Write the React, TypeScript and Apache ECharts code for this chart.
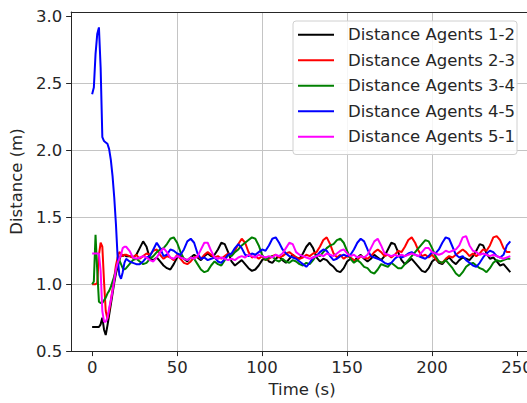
import React, { useEffect, useRef } from "react";
import * as echarts from "echarts";

// Sampling instants (s): 1 s spacing during the transient, 2 s afterwards.
const earlyTimes = [0, 1, 2, 3, 4, 5, 6, 7, 8, 9, 10, 11, 12, 13, 14, 15, 16, 17, 18, 19, 20];
const laterTimes = [
  22, 24, 26, 28, 30, 32, 34, 36, 38, 40, 42, 44, 46, 48, 50, 52, 54, 56, 58, 60,
  62, 64, 66, 68, 70, 72, 74, 76, 78, 80, 82, 84, 86, 88, 90, 92, 94, 96, 98, 100,
  102, 104, 106, 108, 110, 112, 114, 116, 118, 120, 122, 124, 126, 128, 130, 132, 134, 136, 138, 140,
  142, 144, 146, 148, 150, 152, 154, 156, 158, 160, 162, 164, 166, 168, 170, 172, 174, 176, 178, 180,
  182, 184, 186, 188, 190, 192, 194, 196, 198, 200, 202, 204, 206, 208, 210, 212, 214, 216, 218, 220,
  222, 224, 226, 228, 230, 232, 234, 236, 238, 240, 242, 244, 246,
];

// Inter-agent distances (m)
const dist12 = [
  0.68, 0.68, 0.68, 0.68, 0.68, 0.70, 0.75, 0.66, 0.62, 0.69, 0.77, 0.85, 0.93, 1.01, 1.08, 1.13, 1.18, 1.22, 1.21, 1.22, 1.21,
  1.21, 1.20, 1.22, 1.27, 1.32,
  1.28, 1.19, 1.18, 1.20, 1.17,
  1.14, 1.12, 1.11, 1.15, 1.20,
  1.21, 1.19, 1.17, 1.20, 1.22,
  1.20, 1.18, 1.21, 1.23, 1.21,
  1.22, 1.26, 1.31, 1.30, 1.24,
  1.17, 1.14, 1.16, 1.18, 1.15,
  1.12, 1.10, 1.11, 1.14, 1.18,
  1.20, 1.17, 1.16, 1.19, 1.21,
  1.18, 1.16, 1.19, 1.22, 1.20,
  1.19, 1.23, 1.28, 1.31, 1.27,
  1.20, 1.17, 1.19, 1.18, 1.15,
  1.13, 1.10, 1.09, 1.12, 1.17,
  1.19, 1.17, 1.20, 1.22, 1.19,
  1.17, 1.19, 1.22, 1.20, 1.18,
  1.21, 1.26, 1.31, 1.30, 1.24,
  1.18, 1.15, 1.17, 1.19, 1.16,
  1.13, 1.10, 1.09, 1.12, 1.17,
  1.19, 1.16, 1.15, 1.18, 1.20,
  1.17, 1.15, 1.18, 1.20, 1.19,
  1.18, 1.21, 1.25, 1.30, 1.29,
  1.23, 1.19, 1.20, 1.17, 1.14,
  1.15, 1.12, 1.09,
];

const dist23 = [
  1.00, 1.00, 1.00, 1.01, 1.22, 1.31, 1.28, 1.02, 0.80, 0.74, 0.80, 0.88, 0.96, 1.05, 1.14, 1.20, 1.24, 1.23, 1.21, 1.22, 1.22,
  1.21, 1.20, 1.22, 1.19, 1.21,
  1.23, 1.22, 1.25, 1.26, 1.22,
  1.19, 1.21, 1.20, 1.18, 1.22,
  1.19, 1.16, 1.15, 1.17, 1.20,
  1.21, 1.19, 1.22, 1.24, 1.22,
  1.20, 1.21, 1.19, 1.21, 1.23,
  1.22, 1.25, 1.30, 1.34, 1.31,
  1.24, 1.20, 1.21, 1.19, 1.21,
  1.18, 1.19, 1.21, 1.22, 1.20,
  1.21, 1.23, 1.24, 1.22, 1.20,
  1.19, 1.20, 1.22, 1.21, 1.23,
  1.24, 1.28, 1.33, 1.35, 1.30,
  1.23, 1.20, 1.22, 1.19, 1.21,
  1.20, 1.18, 1.18, 1.21, 1.20,
  1.19, 1.21, 1.24, 1.26, 1.24,
  1.21, 1.22, 1.20, 1.22, 1.25,
  1.24, 1.28, 1.33, 1.35, 1.31,
  1.25, 1.21, 1.22, 1.20, 1.22,
  1.19, 1.17, 1.16, 1.19, 1.21,
  1.20, 1.22, 1.24, 1.26, 1.24,
  1.21, 1.23, 1.21, 1.23, 1.26,
  1.25, 1.29, 1.35, 1.36, 1.33,
  1.27, 1.24, 1.24,
];

const dist34 = [
  1.00, 1.02, 1.37, 1.10, 0.87, 0.86, 0.86, 0.88, 0.90, 0.93, 0.95, 0.98, 1.02, 1.06, 1.10, 1.16, 1.18, 1.15, 1.12, 1.11, 1.12,
  1.15, 1.18, 1.19, 1.17, 1.15,
  1.16, 1.19, 1.21, 1.24, 1.26,
  1.27, 1.30, 1.34, 1.35, 1.31,
  1.24, 1.19, 1.18, 1.20, 1.19,
  1.15, 1.11, 1.09, 1.10, 1.14,
  1.17, 1.15, 1.14, 1.18, 1.22,
  1.21, 1.24, 1.26, 1.29, 1.31,
  1.33, 1.35, 1.34, 1.29, 1.22,
  1.18, 1.20, 1.21, 1.18, 1.17,
  1.19, 1.17, 1.16, 1.18, 1.17,
  1.15, 1.14, 1.16, 1.15, 1.18,
  1.22, 1.21, 1.24, 1.27, 1.29,
  1.30, 1.33, 1.34, 1.31, 1.25,
  1.19, 1.16, 1.18, 1.16, 1.13,
  1.12, 1.09, 1.08, 1.11, 1.15,
  1.14, 1.13, 1.16, 1.14, 1.12,
  1.12, 1.15, 1.18, 1.21, 1.24,
  1.27, 1.30, 1.33, 1.32, 1.27,
  1.21, 1.17, 1.16, 1.18, 1.15,
  1.12, 1.08, 1.06, 1.09, 1.13,
  1.15, 1.16, 1.14, 1.12, 1.11,
  1.09, 1.12, 1.16, 1.18, 1.17,
  1.18, 1.19, 1.19,
];

const dist45 = [
  2.42, 2.47, 2.72, 2.87, 2.92, 2.62, 2.10, 2.07, 2.06, 2.05, 2.01, 1.93, 1.81, 1.65, 1.45, 1.20, 1.07, 1.04, 1.09, 1.16, 1.19,
  1.17, 1.16, 1.15, 1.15, 1.17,
  1.20, 1.21, 1.26, 1.31, 1.27,
  1.21, 1.22, 1.26, 1.25, 1.23,
  1.22, 1.26, 1.32, 1.34, 1.31,
  1.23, 1.19, 1.20, 1.18, 1.19,
  1.20, 1.17, 1.16, 1.19, 1.22,
  1.23, 1.27, 1.30, 1.27, 1.22,
  1.21, 1.23, 1.22, 1.24, 1.26,
  1.25, 1.29, 1.34, 1.35, 1.31,
  1.26, 1.23, 1.21, 1.20, 1.19,
  1.17, 1.15, 1.13, 1.16, 1.20,
  1.21, 1.24, 1.26, 1.25, 1.21,
  1.18, 1.19, 1.21, 1.22, 1.21,
  1.22, 1.26, 1.31, 1.34, 1.32,
  1.26, 1.21, 1.20, 1.19, 1.18,
  1.16, 1.15, 1.16, 1.19, 1.21,
  1.20, 1.21, 1.23, 1.24, 1.22,
  1.21, 1.20, 1.19, 1.21, 1.24,
  1.23, 1.26, 1.31, 1.35, 1.34,
  1.28, 1.22, 1.20, 1.21, 1.18,
  1.16, 1.14, 1.13, 1.16, 1.20,
  1.23, 1.25, 1.24, 1.21, 1.20,
  1.22, 1.29, 1.32,
];

const dist51 = [
  1.23, 1.23, 1.23, 1.23, 1.23, 1.10, 0.80, 0.72, 0.72, 0.75, 0.82, 0.88, 0.95, 1.03, 1.11, 1.16, 1.19, 1.22, 1.27, 1.28, 1.28,
  1.25, 1.20, 1.19, 1.20, 1.21,
  1.20, 1.18, 1.17, 1.20, 1.24,
  1.27, 1.24, 1.20, 1.19, 1.21,
  1.20, 1.19, 1.18, 1.20, 1.19,
  1.21, 1.26, 1.31, 1.31, 1.25,
  1.20, 1.19, 1.20, 1.19, 1.18,
  1.19, 1.18, 1.20, 1.21, 1.20,
  1.22, 1.21, 1.20, 1.22, 1.21,
  1.20, 1.21, 1.20, 1.22, 1.21,
  1.23, 1.27, 1.31, 1.30, 1.24,
  1.22, 1.21, 1.20, 1.19, 1.20,
  1.21, 1.22, 1.21, 1.23, 1.22,
  1.21, 1.23, 1.25, 1.26, 1.23,
  1.21, 1.22, 1.20, 1.21, 1.20,
  1.22, 1.27, 1.32, 1.34, 1.29,
  1.23, 1.22, 1.21, 1.22, 1.21,
  1.22, 1.21, 1.22, 1.23, 1.22,
  1.21, 1.24, 1.27, 1.27, 1.24,
  1.23, 1.22, 1.23, 1.25, 1.24,
  1.25, 1.26, 1.29, 1.35, 1.36,
  1.29, 1.25, 1.24, 1.22, 1.23,
  1.22, 1.21, 1.22, 1.21, 1.20,
  1.19, 1.20, 1.21,
];

const seriesNames = [
  "Distance Agents 1-2",
  "Distance Agents 2-3",
  "Distance Agents 3-4",
  "Distance Agents 4-5",
  "Distance Agents 5-1",
];
const seriesColors = ["#000000", "#ff0000", "#008000", "#0000ff", "#ff00ff"];
const seriesValues = [dist12, dist23, dist34, dist45, dist51];

const xTickValues = [0, 50, 100, 150, 200, 250];
const yTickValues = [0.5, 1.0, 1.5, 2.0, 2.5, 3.0];

const FONT = "DejaVu Sans";
const FONT_SIZE = 16.5;
const INK = "#262626";
const GRID = "#c4c4c4";

export default function App() {
  const ref = useRef<HTMLDivElement>(null);

  useEffect(() => {
    if (!ref.current) return;
    const chart = echarts.init(ref.current, undefined, { renderer: "svg" });
    const times = [...earlyTimes, ...laterTimes];

    chart.setOption({
      animation: false,
      backgroundColor: "#ffffff",
      textStyle: { fontFamily: FONT },
      // the axes box runs on past the right edge of the view
      grid: { left: 71, top: 12, width: 462, height: 343, containLabel: false },
      legend: {
        orient: "vertical",
        left: 293,
        top: 21,
        icon: "rect",
        itemWidth: 36,
        itemHeight: 2,
        itemGap: 8,
        padding: [5, 2, 9, 5],
        backgroundColor: "rgba(255,255,255,0.85)",
        borderColor: "#d0d0d0",
        borderWidth: 1,
        borderRadius: 3,
        textStyle: {
          fontFamily: FONT,
          fontSize: FONT_SIZE,
          lineHeight: 17.5,
          color: INK,
          padding: [0, 0, 0, 9],
        },
        data: seriesNames.map((name) => ({ name })),
      },
      xAxis: [
        {
          type: "value",
          min: -12.35,
          max: 259.35,
          splitNumber: 5,
          name: "Time (s)",
          nameLocation: "middle",
          nameGap: 29,
          nameTextStyle: { fontFamily: FONT, fontSize: FONT_SIZE, color: INK },
          axisLine: { show: true, onZero: false, lineStyle: { color: INK, width: 1 } },
          axisTick: { show: true, inside: false, length: 5, customValues: xTickValues, lineStyle: { color: INK } },
          axisLabel: { customValues: xTickValues, margin: 8, fontFamily: FONT, fontSize: FONT_SIZE, color: INK },
          splitLine: { show: true, showMinLine: false, showMaxLine: false, lineStyle: { color: GRID, width: 1 } },
        },
        {
          type: "value",
          position: "top",
          min: -12.35,
          max: 259.35,
          axisLine: { show: true, onZero: false, lineStyle: { color: INK, width: 1 } },
          axisTick: { show: false },
          axisLabel: { show: false },
          splitLine: { show: false },
        },
      ],
      yAxis: {
        type: "value",
        min: 0.5,
        max: 3.035,
        interval: 0.5,
        name: "Distance (m)",
        nameLocation: "middle",
        nameGap: 42,
        nameRotate: 90,
        nameTextStyle: { fontFamily: FONT, fontSize: FONT_SIZE, color: INK },
        axisLine: { show: true, onZero: false, lineStyle: { color: INK, width: 1 } },
        axisTick: { show: true, inside: false, length: 5, customValues: yTickValues, lineStyle: { color: INK } },
        axisLabel: {
          customValues: yTickValues,
          margin: 9,
          fontFamily: FONT,
          fontSize: FONT_SIZE,
          color: INK,
          formatter: (v: number) => v.toFixed(1),
        },
        splitLine: { show: true, showMinLine: false, showMaxLine: false, lineStyle: { color: GRID, width: 1 } },
      },
      series: seriesNames.map((name, k) => ({
        name,
        type: "line",
        xAxisIndex: 0,
        symbol: "none",
        smooth: false,
        clip: true,
        color: seriesColors[k],
        lineStyle: { color: seriesColors[k], width: 2 },
        data: times.map((t, i) => [t, seriesValues[k][i]]),
      })),
    });

    return () => chart.dispose();
  }, []);

  return (
    <div
      ref={ref}
      style={{ position: "fixed", left: 0, top: 0, width: 540, height: 403 }}
    />
  );
}
